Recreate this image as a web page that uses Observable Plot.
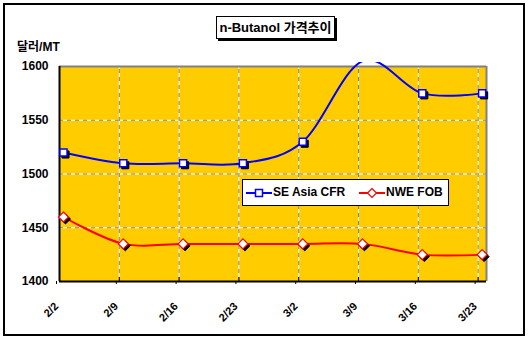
<!DOCTYPE html>
<html>
<head>
<meta charset="utf-8">
<script src="https://cdn.jsdelivr.net/npm/d3@7"></script>
<script src="https://cdn.jsdelivr.net/npm/@observablehq/plot@0.6"></script>
<style>
  html, body { margin: 0; padding: 0; background: #fff; }
  body { width: 530px; height: 344px; position: relative; overflow: hidden;
         font-family: "Liberation Sans", Arial, "Noto Sans CJK KR", sans-serif; }
  #outer { position: absolute; left: 3px; top: 3px; width: 522px; height: 333px;
           border: 2px solid #000; box-sizing: border-box; }
  #title { position: absolute; left: 216px; top: 16px; width: 119px; height: 23px;
           border: 1px solid #000; box-sizing: border-box; background: #fff;
           box-shadow: 2px 2px 0 #000; font-weight: bold; font-size: 13px;
           line-height: 21px; text-align: center; white-space: nowrap; }
  #ylabel { position: absolute; left: 17px; top: 37px; font-weight: bold; font-size: 12px; }
  #chart { position: absolute; left: 0; top: 0; }
  #legend { position: absolute; left: 242px; top: 179px; width: 207px; height: 27px;
            border: 1px solid #000; box-sizing: border-box; background: #fff; }
  .lg { position: absolute; top: 0; height: 25px; line-height: 25px; font-weight: bold; font-size: 12px; white-space: nowrap; }
</style>
</head>
<body>
<div id="outer"></div>
<div id="chart"></div>
<div id="title">n-Butanol 가격추이</div>
<div id="ylabel">달러/MT</div>
<div id="legend"></div>
<script>
const dates = ["2/2", "2/9", "2/16", "2/23", "3/2", "3/9", "3/16", "3/23"];
const seAsiaCFR = [1520, 1510, 1510, 1510, 1530, 1605, 1575, 1575];
const nweFOB = [1460, 1435, 1435, 1435, 1435, 1435, 1425, 1425];
const yTicks = [1400, 1450, 1500, 1550, 1600];
const seriesNames = ["SE Asia CFR", "NWE FOB"];
const colors = ["#0000FF", "#FF0000"];

const yMin = yTicks[0], yMax = yTicks[yTicks.length - 1];
const pxPerUnit = (281 - 66) / (yMax - yMin);
const yTop = yMax + 4 / pxPerUnit;
const xMax = 7.14;

const rows = [];
dates.forEach((d, i) => {
  rows.push({i, v: seAsiaCFR[i], s: seriesNames[0]});
  rows.push({i, v: nweFOB[i], s: seriesNames[1]});
});
const blue = rows.filter(r => r.s === seriesNames[0]);
const red = rows.filter(r => r.s === seriesNames[1]);
const idx = dates.map((d, i) => i);

const plot = Plot.plot({
  width: 530, height: 344,
  marginLeft: 59, marginRight: 44, marginTop: 62, marginBottom: 63,
  x: {type: "linear", domain: [0, xMax], axis: null},
  y: {domain: [yMin, yTop], axis: null},
  style: {fontFamily: "'Liberation Sans', Arial, sans-serif", background: "transparent"},
  marks: [
    Plot.rect([0], {x1: 0, x2: xMax, y1: yMin, y2: yMax, fill: "#FFCC00"}),
    Plot.ruleY(yTicks.slice(1, -1), {x1: 0, x2: xMax, stroke: "#fff", strokeWidth: 1}),
    Plot.ruleY(yTicks.slice(1, -1), {x1: 0, x2: xMax, stroke: "#808080", strokeWidth: 1, strokeDasharray: "4,4"}),
    Plot.ruleX(idx.slice(1), {y1: yMin, y2: yMax, stroke: "#fff", strokeWidth: 1}),
    Plot.ruleX(idx.slice(1), {y1: yMin, y2: yMax, stroke: "#808080", strokeWidth: 1, strokeDasharray: "4,4"}),
    Plot.ruleY([yMax], {x1: 0, x2: xMax, stroke: "#808080", strokeWidth: 2}),
    Plot.ruleX([xMax], {y1: yMin, y2: yMax, stroke: "#808080", strokeWidth: 2}),
    Plot.ruleX([0], {y1: yMin, y2: yMax, stroke: "#000", strokeWidth: 2}),
    Plot.ruleY([yMin], {x1: 0, x2: xMax, stroke: "#000", strokeWidth: 2}),
    Plot.ruleX(idx.slice(1), {y1: yMin, y2: yMin + 4 / pxPerUnit, stroke: "#000", strokeWidth: 1}),
    Plot.line(blue, {x: "i", y: "v", dx: 4, stroke: colors[0], strokeWidth: 2, curve: "cardinal", tension: 0, clip: "frame"}),
    Plot.line(red, {x: "i", y: "v", dx: 4, stroke: colors[1], strokeWidth: 2, curve: "cardinal", tension: 0, clip: "frame"}),
    Plot.dot(blue.filter(r => r.v <= yMax), {x: "i", y: "v", dx: 6, dy: 2, symbol: "square", r: 4, fill: "#000", stroke: "#000", strokeWidth: 1}),
    Plot.dot(blue.filter(r => r.v <= yMax), {x: "i", y: "v", dx: 4, symbol: "square", r: 4, fill: "#fff", stroke: colors[0], strokeWidth: 1.5}),
    Plot.dot(red, {x: "i", y: "v", dx: 6, dy: 2, symbol: "diamond2", r: 4.5, fill: "#000", stroke: "#000", strokeWidth: 1}),
    Plot.dot(red, {x: "i", y: "v", dx: 4, symbol: "diamond2", r: 4.5, fill: "#fff", stroke: colors[1], strokeWidth: 1.2}),
    Plot.axisY(yTicks, {anchor: "left", tickSize: 0, tickPadding: 11, tickFormat: d => String(d), fontSize: 12, fontWeight: "bold", label: null, fill: "#000"}),
    Plot.axisX(idx, {anchor: "bottom", tickSize: 3, tickPadding: 20, dx: -3, tickRotate: -45, tickFormat: i => dates[i], fontSize: 11, fontWeight: "bold", label: null, fill: "#000"})
  ]
});
document.getElementById("chart").appendChild(plot);

// legend
const legend = document.getElementById("legend");
const sym = [
  '<rect x="9.5" y="3.5" width="7" height="7" fill="#fff" stroke="' + colors[0] + '" stroke-width="1.5"/>',
  '<path d="M13 2.5 L17.5 7 L13 11.5 L8.5 7 Z" fill="#fff" stroke="' + colors[1] + '" stroke-width="1.2"/>'
];
const sampleLeft = [3, 116];
const textLeft = [30, 143];
seriesNames.forEach((name, k) => {
  const s = document.createElement("div");
  s.className = "lg";
  s.style.left = sampleLeft[k] + "px";
  s.style.top = "6px";
  s.style.height = "14px";
  s.style.lineHeight = "14px";
  s.innerHTML = '<svg width="26" height="14" style="display:block"><line x1="0" x2="26" y1="7" y2="7" stroke="' + colors[k] + '" stroke-width="2"/>' + sym[k] + '</svg>';
  legend.appendChild(s);
  const t = document.createElement("div");
  t.className = "lg";
  t.style.left = textLeft[k] + "px";
  t.textContent = name;
  legend.appendChild(t);
});
</script>
</body>
</html>
